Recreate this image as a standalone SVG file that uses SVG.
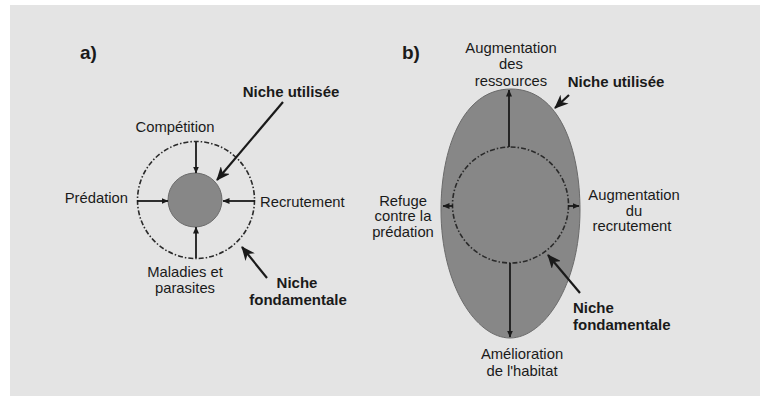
<svg xmlns="http://www.w3.org/2000/svg" width="771" height="396" viewBox="0 0 771 396">
<defs>
<style>
text{font-family:"Liberation Sans",Arial,sans-serif;font-size:14.8px;fill:#1a1a1a}
.b{font-weight:bold;font-size:15px}
.t{font-weight:bold;font-size:19px}
.m{text-anchor:middle}
.dash{fill:none;stroke:#2a2a2a;stroke-width:1.6;stroke-dasharray:5 2 1.5 2}
.sa{stroke:#1a1a1a;stroke-width:1.8;fill:none;marker-end:url(#sm)}
.ba{stroke:#1a1a1a;stroke-width:2.2;fill:none;marker-end:url(#bg)}
.niche{fill:#878787;stroke:#6a6a6a;stroke-width:1}
</style>
<marker id="sm" viewBox="0 0 7 6" refX="6.5" refY="3" markerWidth="7" markerHeight="6" markerUnits="userSpaceOnUse" orient="auto">
<path d="M0,0 L7,3 L0,6 z" fill="#1a1a1a"/>
</marker>
<marker id="bg" viewBox="0 0 14 12" refX="13" refY="6" markerWidth="14" markerHeight="12" markerUnits="userSpaceOnUse" orient="auto">
<path d="M0,0 L14,6 L0,12 L4,6 z" fill="#1a1a1a"/>
</marker>
</defs>
<rect x="0" y="0" width="771" height="396" fill="#ffffff"/>
<rect x="10" y="5" width="750" height="391" fill="#e4e4e4"/>

<g id="panel-a">
<text class="t" x="80" y="59">a)</text>
<g id="a-niche-utilisee-shape"><circle class="niche" cx="195" cy="200" r="27"/></g>
<g id="a-niche-fondamentale-shape"><circle class="dash" cx="196" cy="200" r="58.5"/></g>
<g id="a-competition"><text class="m" x="175" y="132">Compétition</text></g>
<g id="a-predation"><text x="128" y="203" text-anchor="end">Prédation</text></g>
<g id="a-recrutement"><text x="260" y="207">Recrutement</text></g>
<g id="a-maladies"><text class="m" x="185" y="277">Maladies et</text><text class="m" x="185" y="293">parasites</text></g>
<g id="a-label-utilisee"><text class="b m" x="291" y="97">Niche utilisée</text></g>
<g id="a-label-fondamentale"><text class="b m" x="297" y="288">Niche</text><text class="b m" x="298" y="305">fondamentale</text></g>
</g>

<g id="panel-b">
<text class="t" x="402" y="59">b)</text>
<g id="b-niche-utilisee-shape"><path class="niche" d="M511,89 C560,89 580,150 580,210 C580,285 544,338 510,338 C476,338 441,285 441,210 C441,150 462,89 511,89 Z"/></g>
<g id="b-niche-fondamentale-shape"><circle class="dash" cx="510.5" cy="205" r="58"/></g>
<g id="b-ressources"><text class="m" x="511" y="52.5">Augmentation</text><text class="m" x="511" y="69">des</text><text class="m" x="511" y="85.5">ressources</text></g>
<g id="b-refuge"><text class="m" x="403" y="205.5">Refuge</text><text class="m" x="403" y="221">contre la</text><text class="m" x="403" y="236.5">prédation</text></g>
<g id="b-recrutement"><text class="m" x="634" y="200">Augmentation</text><text class="m" x="634" y="215.5">du</text><text class="m" x="632" y="231">recrutement</text></g>
<g id="b-habitat"><text class="m" x="522" y="359">Amélioration</text><text class="m" x="522" y="376">de l'habitat</text></g>
<g id="b-label-utilisee"><text class="b m" x="616" y="87">Niche utilisée</text></g>
<g id="b-label-fondamentale"><text class="b" x="573" y="313">Niche</text><text class="b" x="573" y="330">fondamentale</text></g>
</g>

<g id="connectors">
<line class="sa" x1="196" y1="142" x2="196" y2="173"/>
<line class="sa" x1="137" y1="201" x2="168" y2="201"/>
<line class="sa" x1="255" y1="201" x2="223" y2="201"/>
<line class="sa" x1="196" y1="258" x2="196" y2="227"/>
<line class="ba" x1="283" y1="102" x2="217" y2="180"/>
<line class="ba" x1="267" y1="278" x2="242" y2="247"/>
<line class="sa" x1="509" y1="147" x2="509" y2="90"/>
<line class="sa" x1="510" y1="263" x2="510" y2="337"/>
<line class="sa" x1="453" y1="206" x2="443" y2="206"/>
<line class="sa" x1="568" y1="206" x2="579" y2="206"/>
<line class="ba" x1="569" y1="95" x2="555" y2="108"/>
<line class="ba" x1="580" y1="293" x2="548" y2="255"/>
</g>
</svg>
